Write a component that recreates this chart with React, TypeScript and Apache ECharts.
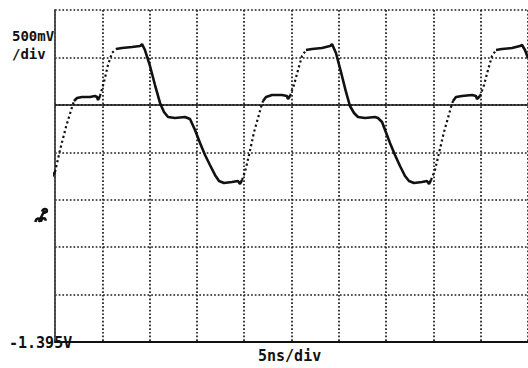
import React, { useEffect, useRef } from "react";
import * as echarts from "echarts";

// Screen scale
const BOTTOM_V = -1.395; // volts at bottom graticule line
const VOLTS_PER_DIV = 0.5;
const NS_PER_DIV = 5;
const X_DIVS = 10;
const Y_DIVS = 7;
const REF_LEVEL_V = 1.105; // solid horizontal reference line

// Labels
const LABEL_VDIV_1 = "500mV";
const LABEL_VDIV_2 = "/div";
const LABEL_BOTTOM = "-1.395V";
const LABEL_TDIV = "5ns/div";

// Waveform [time ns, volts] — slowly varying parts (dense trace)
const slow1: [number, number][] = [[-0.74, 0.281], [0, 0.397]];
const slow2: [number, number][] = [[2.01, 1.146], [2.33, 1.177], [2.85, 1.188], [3.7, 1.188], [4.23, 1.198], [4.44, 1.188], [4.55, 1.156], [4.76, 1.198]];
const slow3: [number, number][] = [[6.45, 1.694], [7.08, 1.704], [8.14, 1.715], [8.99, 1.725], [9.2, 1.746], [9.51, 1.683], [10.04, 1.515], [10.57, 1.314], [11.1, 1.125], [11.52, 1.03], [11.95, 0.977], [12.68, 0.966], [13.74, 0.977], [14.27, 0.956], [14.8, 0.84], [15.33, 0.703], [15.86, 0.576], [16.38, 0.471], [16.91, 0.366], [17.34, 0.302], [17.86, 0.281], [18.71, 0.292], [19.34, 0.302], [19.56, 0.271], [19.77, 0.313]];
const slow4: [number, number][] = [[21.99, 1.146], [22.31, 1.188], [22.94, 1.209], [24.0, 1.209], [24.52, 1.198], [24.63, 1.167], [24.84, 1.198]];
const slow5: [number, number][] = [[26.53, 1.683], [27.17, 1.694], [28.22, 1.704], [29.07, 1.725], [29.28, 1.746], [29.7, 1.652], [30.23, 1.451], [30.76, 1.241], [31.18, 1.093], [31.61, 1.019], [32.03, 0.977], [32.77, 0.966], [33.83, 0.977], [34.14, 0.966], [34.57, 0.924], [34.89, 0.84], [35.41, 0.703], [35.94, 0.576], [36.47, 0.46], [37.0, 0.355], [37.42, 0.302], [37.95, 0.281], [38.8, 0.292], [39.32, 0.302], [39.54, 0.271], [39.75, 0.313]];
const slow6: [number, number][] = [[42.07, 1.146], [42.39, 1.188], [43.02, 1.198], [44.08, 1.209], [44.5, 1.198], [44.61, 1.167], [44.93, 1.198]];
const slow7: [number, number][] = [[46.62, 1.683], [47.25, 1.694], [48.31, 1.704], [49.15, 1.725], [49.37, 1.736], [49.68, 1.683], [50.0, 1.599]];

// Fast rising edges (sparse, dotted trace)
const fast1: [number, number][] = [[0, 0.397], [0.53, 0.629], [1.16, 0.872], [1.8, 1.082], [2.01, 1.146]];
const fast2: [number, number][] = [[4.76, 1.198], [5.18, 1.346], [5.6, 1.525], [6.03, 1.652], [6.45, 1.694]];
const fast3: [number, number][] = [[19.77, 0.313], [20.08, 0.397], [20.51, 0.576], [21.04, 0.819], [21.46, 0.966], [21.78, 1.082], [21.99, 1.146]];
const fast4: [number, number][] = [[24.84, 1.198], [25.26, 1.314], [25.69, 1.472], [26.11, 1.62], [26.53, 1.683]];
const fast5: [number, number][] = [[39.75, 0.313], [40.17, 0.418], [40.59, 0.597], [41.12, 0.819], [41.54, 0.966], [41.86, 1.082], [42.07, 1.146]];
const fast6: [number, number][] = [[44.93, 1.198], [45.35, 1.314], [45.77, 1.472], [46.19, 1.62], [46.62, 1.683]];

const SLOW = [slow1, slow2, slow3, slow4, slow5, slow6, slow7];
const FAST = [fast1, fast2, fast3, fast4, fast5, fast6];

const toSeries = (segs: [number, number][][]) => {
  const out: any[] = [];
  segs.forEach((seg, i) => {
    if (i > 0) out.push(null);
    seg.forEach(([t, v]) => out.push([t, +(v - BOTTOM_V).toFixed(4)]));
  });
  return out;
};

const FONT = "'DejaVu Sans Mono', 'Liberation Mono', monospace";
const INK = "#111";

export default function App() {
  const ref = useRef<HTMLDivElement>(null);
  useEffect(() => {
    if (!ref.current) return;
    echarts.graphic.registerShape(
      "gndmark",
      echarts.graphic.extendPath(
        "M8 4 C8 1 13 1 12 4 L10 5 M10 3 L5 13 M2 13 C3 9 7 9 7 13 M7 12 C8 9 11 9 11 12",
        {}
      ) as any
    );
    const chart = echarts.init(ref.current, undefined, { renderer: "svg" });
    const dotted = { color: "#1a1a1a", width: 1.7, type: [1.7, 2] as any };
    chart.setOption({
      animation: false,
      backgroundColor: "#fff",
      grid: { left: 55, right: 0, top: 10, bottom: 26 },
      xAxis: {
        type: "value",
        min: 0,
        max: X_DIVS * NS_PER_DIV,
        interval: NS_PER_DIV,
        axisLabel: { show: false },
        axisTick: { show: false },
        axisLine: { show: true, lineStyle: { color: INK, width: 1.8 } },
        splitLine: { show: true, lineStyle: dotted },
      },
      yAxis: {
        type: "value",
        min: 0,
        max: Y_DIVS * VOLTS_PER_DIV,
        interval: VOLTS_PER_DIV,
        axisLabel: { show: false },
        axisTick: { show: false },
        axisLine: { show: true, lineStyle: { color: "#444", width: 1.8 } },
        splitLine: { show: true, lineStyle: dotted },
      },
      series: [
        {
          type: "line",
          name: "trace",
          data: toSeries(SLOW),
          showSymbol: false,
          clip: false,
          connectNulls: false,
          lineStyle: { color: INK, width: 2.6 },
          markLine: {
            silent: true,
            symbol: "none",
            label: { show: false },
            lineStyle: { color: INK, width: 1.7, type: "solid" },
            data: [{ yAxis: +(REF_LEVEL_V - BOTTOM_V).toFixed(4) }],
          },
        },
        {
          type: "line",
          name: "edges",
          data: toSeries(FAST),
          showSymbol: false,
          clip: false,
          connectNulls: false,
          lineStyle: { color: INK, width: 2.2, type: [2.2, 2.8] as any },
        },
      ],
      graphic: [
        { type: "text", left: 12, top: 29, style: { text: LABEL_VDIV_1, font: `bold 14px ${FONT}`, fill: INK } },
        { type: "text", left: 12, top: 47, style: { text: LABEL_VDIV_2, font: `bold 14px ${FONT}`, fill: INK } },
        {
          type: "text",
          left: 8,
          top: 334,
          style: {
            text: LABEL_BOTTOM,
            font: `bold 15px ${FONT}`,
            fill: INK,
            backgroundColor: "#fff",
            padding: [1, 1, 1, 1],
          },
        },
        { type: "text", left: 258, top: 348, style: { text: LABEL_TDIV, font: `bold 15px ${FONT}`, fill: INK } },
        {
          type: "gndmark",
          x: 33,
          y: 207,
          scaleX: 1.15,
          scaleY: 1.15,
          style: { stroke: INK, lineWidth: 2.2, fill: "none" },
        } as any,
      ],
    });
    return () => chart.dispose();
  }, []);
  return (
    <div
      ref={ref}
      style={{ position: "fixed", left: 0, top: 0, width: 528, height: 368 }}
    />
  );
}
